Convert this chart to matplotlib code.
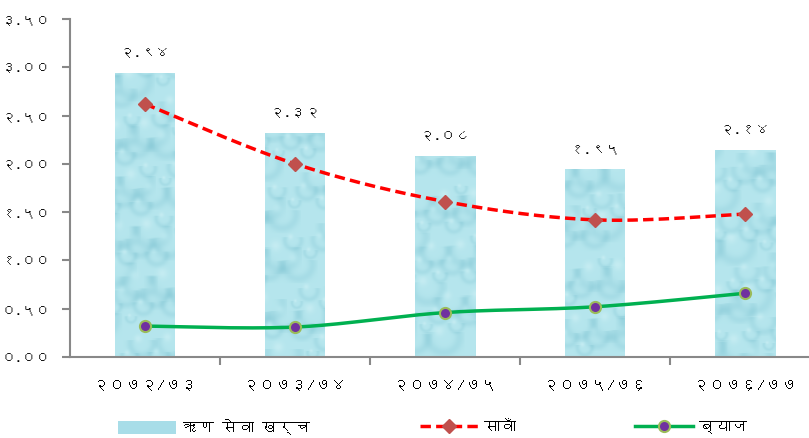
import numpy as np
import matplotlib
matplotlib.use('Agg')
import matplotlib.pyplot as plt
from matplotlib import font_manager
from matplotlib.ft2font import FT2Font
from matplotlib.lines import Line2D
from matplotlib.patches import Patch

# data (अर्ब रु.)
years = ['२०७२/७३', '२०७३/७४', '२०७४/७५', '२०७५/७६', '२०७६/७७']
total = [2.94, 2.32, 2.08, 1.95, 2.14]      # ऋण सेवा खर्च
principal = [2.62, 2.00, 1.61, 1.42, 1.48]  # सावाँ
interest = [0.32, 0.31, 0.46, 0.52, 0.66]   # ब्याज
yticks = [0, 0.5, 1.0, 1.5, 2.0, 2.5, 3.0, 3.5]
names = ['ऋण सेवा खर्च', 'सावाँ', 'ब्याज']

digits = str.maketrans('0123456789', '०१२३४५६७८९')


def nep(v):
    return ('%.2f' % v).translate(digits)


# look for a font that has devanagari
dev_font = None
for f in font_manager.fontManager.ttflist:
    try:
        ft = FT2Font(f.fname)
        if ft.get_char_index(ord('क')) and ft.get_char_index(ord('२')):
            dev_font = f.name
            break
    except Exception:
        pass
if dev_font:
    plt.rcParams['font.family'] = [dev_font, 'DejaVu Sans']


def smooth(x, y, n=40):
    # catmull-rom, only for drawing the line
    x = np.asarray(x, float)
    y = np.asarray(y, float)
    px = np.concatenate([[x[0]], x, [x[-1]]])
    py = np.concatenate([[y[0]], y, [y[-1]]])
    t = np.linspace(0, 1, n)
    xs, ys = [], []
    for i in range(1, len(px) - 2):
        for p, out in ((px, xs), (py, ys)):
            p0, p1, p2, p3 = p[i - 1], p[i], p[i + 1], p[i + 2]
            out.extend(0.5 * (2 * p1 + (p2 - p0) * t
                              + (2 * p0 - 5 * p1 + 4 * p2 - p3) * t ** 2
                              + (3 * p1 - p0 - 3 * p2 + p3) * t ** 3))
    return xs, ys


def drops(h=340, w=760):
    # soft water drop texture for the bars
    yy, xx = np.mgrid[0:h, 0:w]
    shade = np.zeros((h, w))
    for k in range(500):
        cx = (k * 0.6180339) % 1 * w
        cy = (k * 0.7548776) % 1 * h
        r = 5 + (k * 0.5698403) % 1 * 13
        x0, x1 = int(max(cx - r - 5, 0)), int(min(cx + r + 5, w))
        y0, y1 = int(max(cy - r - 5, 0)), int(min(cy + r + 5, h))
        gx = xx[y0:y1, x0:x1] - cx
        gy = yy[y0:y1, x0:x1] - cy
        d = np.hypot(gx, gy) / r
        shade[y0:y1, x0:x1] -= 0.35 * np.exp(-((d - 0.95) / 0.3) ** 2) * (gy > -0.3 * r)
        hx = np.hypot(gx + r * 0.3, gy + r * 0.4) / r
        shade[y0:y1, x0:x1] += 0.35 * np.exp(-(hx / 0.3) ** 2)
    shade = np.clip(shade, -1, 1)
    base = np.array([0.71, 0.90, 0.93])
    dark = np.array([0.55, 0.80, 0.85])
    light = np.array([0.88, 0.97, 0.98])
    s = shade[..., None]
    img = np.where(s < 0, base + (dark - base) * (-s), base + (light - base) * s)
    return img


fig = plt.figure(figsize=(8.09, 4.38), dpi=100)
ax = fig.add_axes([70 / 809, 81 / 438, 750 / 809, 338 / 438])

x = np.arange(len(years))
bars = ax.bar(x, total, width=0.4, color='none', edgecolor='none', zorder=2)
tex = drops()
for b in bars:
    im = ax.imshow(tex, extent=[-0.5, 4.5, 0, 3.5], aspect='auto',
                   origin='upper', zorder=1, interpolation='bilinear')
    im.set_clip_path(b)

for xi, v in zip(x, total):
    ax.annotate(nep(v), (xi, v), xytext=(0, 10), textcoords='offset points',
                ha='center', va='bottom', fontsize=10.5)

sx, sy = smooth(x, principal)
ax.plot(sx, sy, color='#ff0000', lw=2.5, ls=(0, (3, 1.5)), zorder=3)
ax.plot(x, principal, ls='none', marker='D', ms=7, color='#c0504d', zorder=4)

sx, sy = smooth(x, interest)
ax.plot(sx, sy, color='#00b050', lw=2.5, zorder=3)
ax.plot(x, interest, ls='none', marker='o', ms=8, mfc='#7030a0',
        mec='#9bbb59', mew=1.5, zorder=4)

ax.set_xlim(-0.5, 4.5)
ax.set_ylim(0, 3.5)
ax.set_yticks(yticks)
ax.set_yticklabels([nep(v) for v in yticks], fontsize=10)
ax.set_xticks(x + 0.5)
ax.set_xticklabels([])
ax.set_xticks(x, minor=True)
ax.set_xticklabels(years, minor=True, fontsize=11.5)
ax.tick_params(axis='x', which='minor', length=0, pad=16)
ax.tick_params(axis='both', which='major', length=6, color='#888888', width=1.5)
ax.tick_params(axis='y', pad=8)
for s in ('top', 'right'):
    ax.spines[s].set_visible(False)
for s in ('left', 'bottom'):
    ax.spines[s].set_color('#888888')
    ax.spines[s].set_linewidth(1.5)

handles = [Patch(facecolor='#a8dde8', edgecolor='none'),
           Line2D([], [], color='#ff0000', lw=2.5, ls=(0, (3, 1.5)), marker='D',
                  ms=7, mfc='#c0504d', mec='#c0504d'),
           Line2D([], [], color='#00b050', lw=2.5, marker='o', ms=8,
                  mfc='#7030a0', mec='#9bbb59', mew=1.5)]
# one legend per entry, placed where the reference has them
for h, n, lx in zip(handles, names, [118, 420, 635]):
    fig.legend([h], [n], loc='center left', bbox_to_anchor=(lx / 809, 11 / 438),
               frameon=False, fontsize=11.5, handlelength=3.6, handleheight=0.8,
               handletextpad=0.4, borderpad=0, borderaxespad=0)

fig.savefig('out.png', dpi=100)
